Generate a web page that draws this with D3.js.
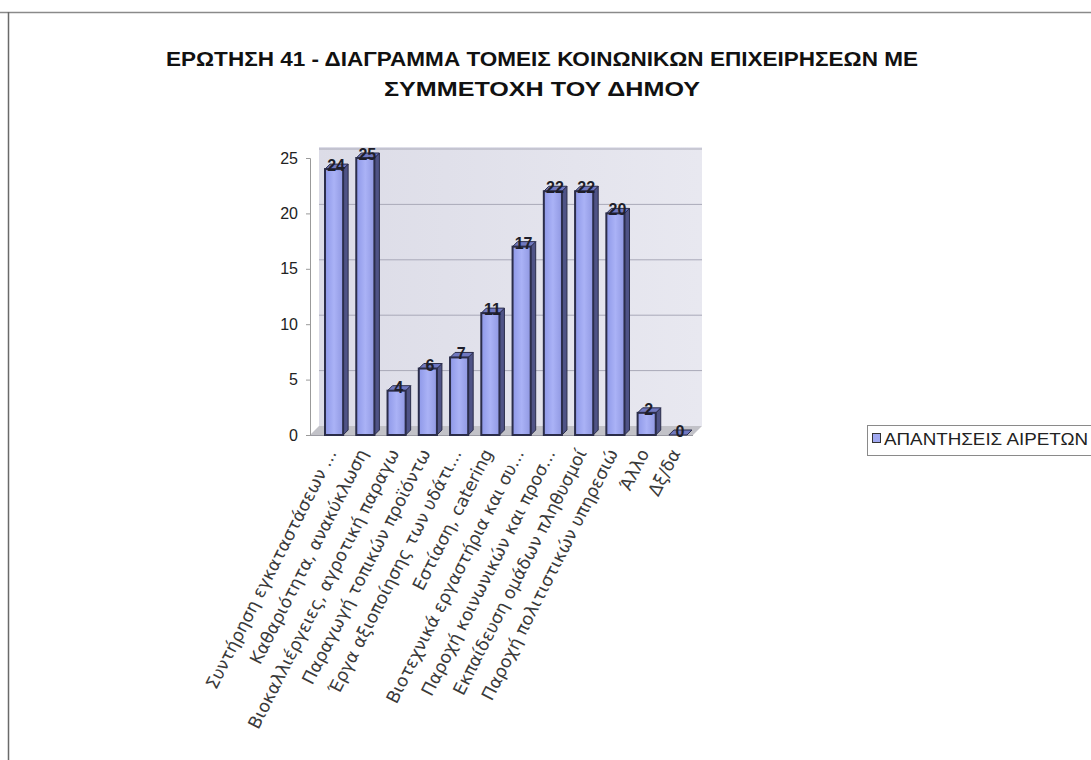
<!DOCTYPE html>
<html>
<head>
<meta charset="utf-8">
<script src="https://cdn.jsdelivr.net/npm/d3@7"></script>
<style>
  html, body { margin: 0; padding: 0; background: #ffffff; }
  svg { display: block; }
</style>
</head>
<body>
<svg id="chart" width="1091" height="760"></svg>
<script>
// ---- data ----
const categories = [
  "Συντήρηση εγκαταστάσεων ...",
  "Καθαριότητα, ανακύκλωση",
  "Βιοκαλλιέργειες, αγροτική παραγω",
  "Παραγωγή τοπικών προϊόντω",
  "Έργα αξιοποίησης των υδάτι...",
  "Εστίαση, catering",
  "Βιοτεχνικά εργαστήρια και συ...",
  "Παροχή κοινωνικών και προσ...",
  "Εκπαίδευση ομάδων πληθυσμοί",
  "Παροχή πολιτιστικών υπηρεσιώ",
  "Άλλο",
  "Δξ/δα"
];
const values = [24, 25, 4, 6, 7, 11, 17, 22, 22, 20, 2, 0];
const yTicks = [0, 5, 10, 15, 20, 25];
const seriesName = "ΑΠΑΝΤΗΣΕΙΣ ΑΙΡΕΤΩΝ";
const titleLines = [
  "ΕΡΩΤΗΣΗ 41 - ΔΙΑΓΡΑΜΜΑ ΤΟΜΕΙΣ ΚΟΙΝΩΝΙΚΩΝ ΕΠΙΧΕΙΡΗΣΕΩΝ ΜΕ",
  "ΣΥΜΜΕΤΟΧΗ ΤΟΥ ΔΗΜΟΥ"
];

// ---- layout ----
const svg = d3.select("#chart");
const W = 1091, H = 760;
const depthX = 9, depthY = -9;   // 3D depth offset of the back wall

const x = d3.scaleBand().domain(categories).range([310, 702]).paddingInner(0.42).paddingOuter(0.48);
const y = d3.scaleLinear().domain([0, 25]).range([435, 158]);

const defs = svg.append("defs");
const wallGrad = defs.append("linearGradient").attr("id", "wall").attr("x1", 0).attr("y1", 0).attr("x2", 1).attr("y2", 0);
wallGrad.append("stop").attr("offset", "0%").attr("stop-color", "#dcdce7");
wallGrad.append("stop").attr("offset", "100%").attr("stop-color", "#e8e8f0");

const barGrad = defs.append("linearGradient").attr("id", "barFront").attr("x1", 0).attr("y1", 0).attr("x2", 1).attr("y2", 0);
barGrad.append("stop").attr("offset", "0%").attr("stop-color", "#8e98e8");
barGrad.append("stop").attr("offset", "50%").attr("stop-color", "#aab2f6");
barGrad.append("stop").attr("offset", "100%").attr("stop-color", "#9098e2");

// outer chart frame
svg.append("line").attr("x1", 0).attr("x2", W).attr("y1", 12.5).attr("y2", 12.5).attr("stroke", "#8a8a8a").attr("stroke-width", 1.5);
svg.append("line").attr("x1", 8.5).attr("x2", 8.5).attr("y1", 12).attr("y2", H).attr("stroke", "#6a6a6a").attr("stroke-width", 1.5);

// title
const titleSpecs = [
  { y: 66, len: 752 },
  { y: 96, len: 316 }
];
titleLines.forEach((t, i) => {
  svg.append("text").attr("x", 542).attr("y", titleSpecs[i].y)
    .attr("text-anchor", "middle")
    .attr("font-family", "'Liberation Sans', Arial, sans-serif")
    .attr("font-weight", "bold").attr("font-size", 20.5).attr("fill", "#111")
    .attr("textLength", titleSpecs[i].len).attr("lengthAdjust", "spacingAndGlyphs")
    .text(t);
});

// back wall
const x0 = x.range()[0], x1 = x.range()[1];
svg.append("rect")
  .attr("x", x0 + depthX).attr("y", y(25) + depthY - 2)
  .attr("width", x1 - x0 - depthX).attr("height", y(0) - y(25) + 2)
  .attr("fill", "url(#wall)");

// gridlines on back wall
svg.append("g").selectAll("line").data(yTicks.filter(d => d > 0)).join("line")
  .attr("x1", x0 + depthX).attr("x2", x1)
  .attr("y1", d => y(d) + depthY).attr("y2", d => y(d) + depthY)
  .attr("stroke", "#a9a9b8").attr("stroke-width", 1);

// floor
svg.append("path")
  .attr("d", `M${x0},${y(0)} L${x0 + depthX},${y(0) + depthY} L${x1},${y(0) + depthY} L${x1 - depthX},${y(0)} Z`)
  .attr("fill", "#c2c2c8");
svg.append("line").attr("x1", x0).attr("x2", x1 - depthX).attr("y1", y(0) + 0.5).attr("y2", y(0) + 0.5)
  .attr("stroke", "#9a9aa2");

// y axis
const yAxis = svg.append("g").attr("transform", `translate(${x0},0)`)
  .call(d3.axisLeft(y).tickValues(yTicks).tickSize(4).tickPadding(8));
yAxis.select(".domain").attr("stroke", "#9a9a9a");
yAxis.selectAll(".tick line").attr("stroke", "#9a9a9a");
yAxis.selectAll("text")
  .attr("font-family", "'Liberation Sans', Arial, sans-serif")
  .attr("font-size", 16).attr("fill", "#222");

// bars (3D boxes)
const bw = x.bandwidth();
const bdx = 5, bdy = -5;
const barData = values.map((v, i) => ({ v, c: categories[i] }));
const bars = svg.append("g").selectAll("g").data(barData).join("g");
// side face
bars.append("path")
  .attr("d", d => {
    const bx = x(d.c) + bw, top = y(d.v), bot = y(0);
    return `M${bx},${bot} L${bx + bdx},${bot + bdy} L${bx + bdx},${top + bdy} L${bx},${top} Z`;
  })
  .attr("fill", "#4f5386").attr("stroke", "#2b2d4a").attr("stroke-width", 1);
// top face
bars.append("path")
  .attr("d", d => {
    const bx = x(d.c), top = y(d.v);
    return `M${bx},${top} L${bx + bdx},${top + bdy} L${bx + bw + bdx},${top + bdy} L${bx + bw},${top} Z`;
  })
  .attr("fill", "#7078c0").attr("stroke", "#2b2d4a").attr("stroke-width", 1);
// front face
bars.append("rect")
  .attr("x", d => x(d.c)).attr("y", d => y(d.v))
  .attr("width", bw).attr("height", d => y(0) - y(d.v))
  .attr("fill", "url(#barFront)").attr("stroke", "#2b2d4a").attr("stroke-width", 2);

// data labels
svg.append("g").selectAll("text").data(barData).join("text")
  .attr("x", d => x(d.c) + bw / 2 + 2)
  .attr("y", d => y(d.v) + 2)
  .attr("text-anchor", "middle")
  .attr("font-family", "'Liberation Sans', Arial, sans-serif")
  .attr("font-size", 16).attr("font-weight", "bold").attr("fill", "#1e1e2a")
  .text(d => d.v);

// x category labels (rotated)
svg.append("g").selectAll("text").data(categories).join("text")
  .attr("transform", d => `translate(${x(d) + bw / 2 + 3},${y(0) + 18}) rotate(-63)`)
  .attr("text-anchor", "end")
  .attr("font-family", "'DejaVu Sans', Verdana, sans-serif")
  .attr("font-size", 17.5).attr("fill", "#3a3a3a")
  .text(d => d);

// legend
const lg = svg.append("g");
lg.append("rect").attr("x", 867.5).attr("y", 425.5).attr("width", 230).attr("height", 30)
  .attr("fill", "#fff").attr("stroke", "#8a8a8a");
lg.append("rect").attr("x", 872.5).attr("y", 433.5).attr("width", 8).attr("height", 9)
  .attr("fill", "#a0a8f0").attr("stroke", "#333");
lg.append("text").attr("x", 884).attr("y", 445)
  .attr("font-family", "'Liberation Sans', Arial, sans-serif")
  .attr("font-size", 16).attr("fill", "#222")
  .attr("textLength", 204).attr("lengthAdjust", "spacingAndGlyphs")
  .text(seriesName);
</script>
</body>
</html>
